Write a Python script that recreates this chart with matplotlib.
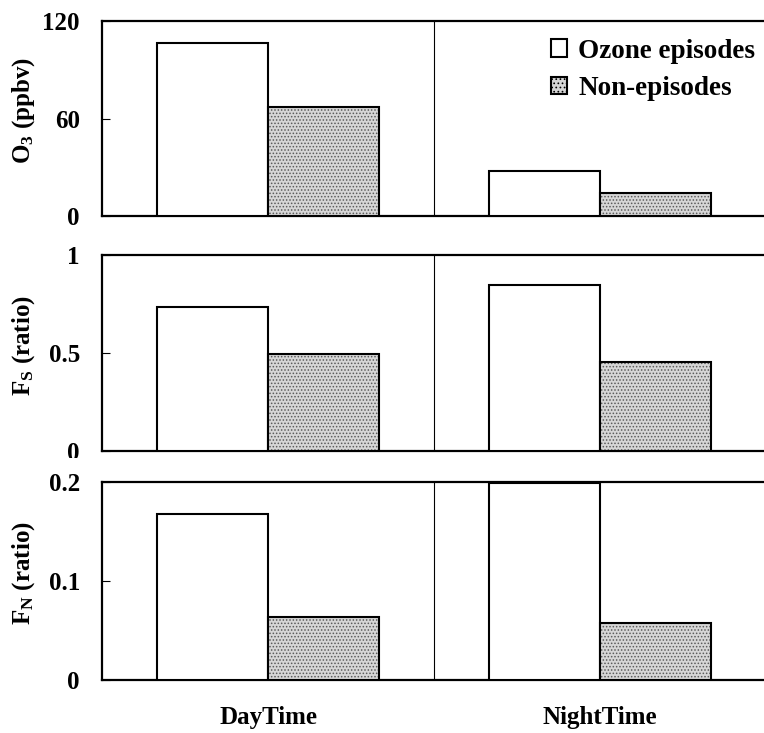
import numpy as np
import matplotlib
matplotlib.use("Agg")
import matplotlib.pyplot as plt
from matplotlib.patches import Patch
from matplotlib.transforms import Bbox, TransformedBbox

plt.rcParams['font.family'] = ['Liberation Serif', 'DejaVu Serif']
plt.rcParams['font.weight'] = 'bold'
plt.rcParams['mathtext.fontset'] = 'custom'
plt.rcParams['mathtext.rm'] = 'Liberation Serif:bold'
plt.rcParams['mathtext.bf'] = 'Liberation Serif:bold'
plt.rcParams['mathtext.it'] = 'Liberation Serif:bold'
plt.rcParams['hatch.linewidth'] = 0.7

periods = ['DayTime', 'NightTime']
series = ['Ozone episodes', 'Non-episodes']

# O3 (ppbv)
o3_episode = [106.3, 27.9]
o3_non = [66.9, 14.3]
# Fs (ratio)
fs_episode = [0.736, 0.847]
fs_non = [0.495, 0.456]
# FN (ratio)
fn_episode = [0.168, 0.199]
fn_non = [0.064, 0.058]

panels = [
    (o3_episode, o3_non, r'$\mathrm{O_3}$ (ppbv)', [0, 60, 120], ['0', '60', '120'], 120),
    (fs_episode, fs_non, r'$\mathrm{F_S}$ (ratio)', [0, 0.5, 1], ['0', '0.5', '1'], 1),
    (fn_episode, fn_non, r'$\mathrm{F_N}$ (ratio)', [0, 0.1, 0.2], ['0', '0.1', '0.2'], 0.2),
]

W, H = 764, 733
fig = plt.figure(figsize=(W / 100, H / 100), dpi=100)

# axes boxes in pixels: (top, bottom)
boxes = [(21, 216), (255, 451), (482, 680)]
left, right = 102, 766

fill = '#d6d6d6'
x = np.arange(len(periods))
w = 1 / 3

axes = []
for (top, bot), (ep, non, ylab, ticks, labels, ymax) in zip(boxes, panels):
    ax = fig.add_axes([left / W, (H - bot) / H, (right - left) / W, (bot - top) / H])
    axes.append(ax)
    ax.bar(x - w / 2, ep, w, color='white', edgecolor='black', linewidth=1.5, zorder=3)
    ax.bar(x + w / 2, non, w, color=fill, edgecolor='#5a5a5a', hatch='.....', linewidth=0, zorder=3)
    ax.bar(x + w / 2, non, w, color='none', edgecolor='black', linewidth=1.5, zorder=4)
    ax.axvline(0.5, color='black', linewidth=0.8, zorder=2)
    ax.set_xlim(-0.5, 1.5)
    ax.set_ylim(0, ymax)
    ax.set_yticks(ticks)
    ax.set_yticklabels(labels)
    ax.tick_params(axis='y', direction='in', length=6, width=0.8, pad=16, labelsize=18)
    ax.tick_params(axis='x', length=0)
    ax.set_xticks(x)
    ax.set_xticklabels([])
    for s in ['top', 'bottom', 'left']:
        ax.spines[s].set_linewidth(1.6)
    ax.spines['right'].set_visible(False)
    fig.text(24 / W, 1 - ((top + bot) / 2 - 8) / H, ylab, rotation=90,
             ha='center', va='center', fontsize=18, fontweight='bold')

# the "0" of the middle panel is partly hidden in the original
zero = axes[1].yaxis.get_major_ticks()[0].label1
zero.set_clip_on(True)
zero.set_clip_box(TransformedBbox(Bbox([[0, (H - 458) / H], [1, 1]]), fig.transFigure))

axes[-1].set_xticklabels(periods, fontsize=18, fontweight='bold')
axes[-1].tick_params(axis='x', pad=19)

handles = [
    Patch(facecolor='white', edgecolor='black', linewidth=1.5),
    Patch(facecolor=fill, edgecolor='black', hatch='....', linewidth=1.5),
]
axes[0].legend(handles, series, loc='upper right', bbox_to_anchor=(1.0, 0.965),
               frameon=False, handlelength=0.62, handleheight=0.62,
               handletextpad=0.4, labelspacing=0.45, borderaxespad=0, borderpad=0.4,
               prop={'weight': 'bold', 'size': 19.5})

fig.savefig('out.png', dpi=100)
